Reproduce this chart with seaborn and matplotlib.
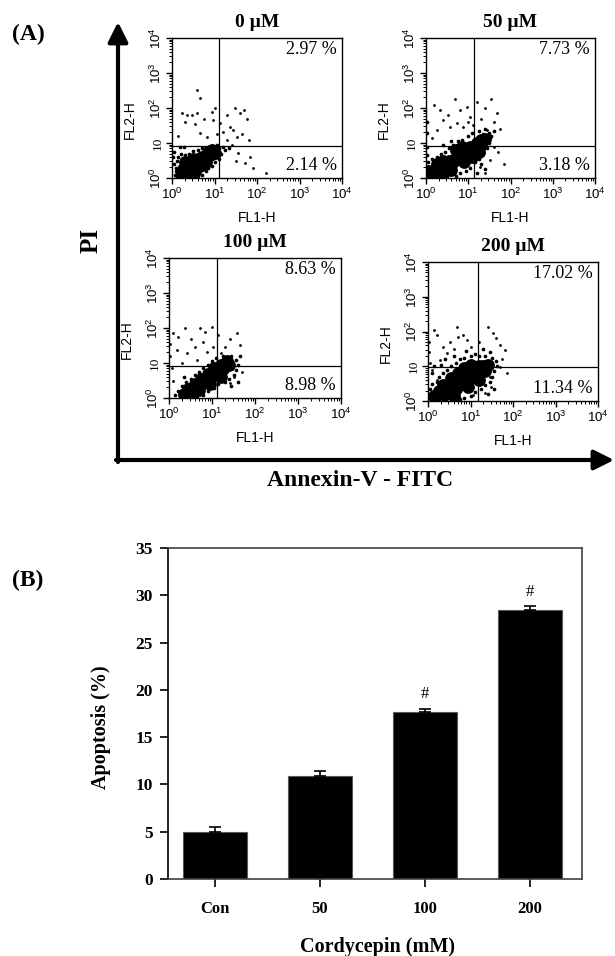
import numpy as np
import pandas as pd
import seaborn as sns
import matplotlib.pyplot as plt
from matplotlib.ticker import LogLocator, NullFormatter

# ---- panel A: flow cytometry dot plots (values in log10 units) ----
doses = ['0 µM', '50 µM', '100 µM', '200 µM']
upper_pct = ['2.97 %', '7.73 %', '8.63 %', '17.02 %']
lower_pct = ['2.14 %', '3.18 %', '8.98 %', '11.34 %']
gate_fl1 = [1.10, 1.13, 1.12, 1.18]
gate_fl2 = [0.91, 0.91, 0.91, 0.98]

core_0 = [(0.25, 0.15), (0.35, 0.15), (0.45, 0.18), (0.30, 0.28), (0.40, 0.30), (0.50, 0.30),
          (0.60, 0.32), (0.45, 0.42), (0.55, 0.45), (0.65, 0.45), (0.75, 0.50), (0.60, 0.55),
          (0.70, 0.60), (0.80, 0.62), (0.90, 0.65), (0.85, 0.75), (0.95, 0.80), (0.35, 0.40),
          (0.25, 0.25), (0.55, 0.20), (0.70, 0.38), (1.00, 0.72), (0.20, 0.10), (0.40, 0.10),
          (0.50, 0.55), (0.80, 0.45), (0.30, 0.45)]
halo_0 = [(0.08, 0.10), (0.10, 0.30), (0.12, 0.50), (0.15, 0.60), (0.20, 0.70), (0.05, 0.75),
          (0.30, 0.65), (0.40, 0.70), (0.50, 0.78), (0.60, 0.80), (0.70, 0.85), (0.85, 0.90),
          (1.05, 0.95), (1.10, 0.85), (1.15, 0.70), (1.10, 0.55), (1.00, 0.45), (0.95, 0.35),
          (0.85, 0.30), (0.80, 0.20), (0.70, 0.10), (0.60, 0.05), (0.15, 0.05), (0.05, 0.40),
          (1.20, 0.90), (1.25, 0.80), (1.35, 0.85), (0.45, 0.05), (0.18, 0.90), (0.28, 0.88),
          (0.10, 0.20), (0.20, 0.45), (0.02, 0.60), (1.05, 0.60), (0.95, 0.92)]
sparse_0 = [(0.58, 2.51), (0.66, 2.29), (0.23, 1.85), (0.35, 1.80), (0.46, 1.80), (0.58, 1.85),
            (0.93, 1.89), (0.97, 1.66), (1.29, 1.80), (1.48, 1.99), (1.60, 1.85), (1.76, 1.68),
            (1.44, 1.37), (1.36, 1.47), (1.52, 1.18), (1.80, 1.09), (1.56, 0.71), (1.72, 0.42),
            (1.84, 0.61), (0.66, 1.28), (0.82, 1.18), (1.13, 1.56), (1.21, 1.32), (0.30, 1.60),
            (0.55, 1.55), (1.05, 1.25), (1.30, 1.10), (1.65, 1.25), (1.40, 0.95), (0.75, 1.70),
            (1.90, 0.30), (2.20, 0.15), (1.50, 0.50), (0.15, 1.20), (1.00, 2.00), (1.70, 1.95)]

core_50 = [(0.10, 0.08), (0.20, 0.10), (0.15, 0.20), (0.30, 0.15), (0.30, 0.28), (0.40, 0.25),
           (0.45, 0.38), (0.55, 0.35), (0.55, 0.50), (0.65, 0.45), (0.70, 0.58), (0.80, 0.55),
           (0.80, 0.70), (0.90, 0.65), (0.95, 0.80), (1.05, 0.75), (1.05, 0.90), (1.15, 0.85),
           (1.20, 1.00), (1.30, 0.95), (1.30, 1.10), (0.05, 0.20), (0.25, 0.40), (0.40, 0.12),
           (0.60, 0.22), (1.40, 1.12), (0.90, 0.45), (0.70, 0.80), (0.05, 0.05), (1.10, 0.60),
           (0.40, 0.50), (0.85, 0.90), (1.25, 0.75)]
halo_50 = [(0.05, 0.45), (0.15, 0.55), (0.25, 0.60), (0.35, 0.70), (0.45, 0.75), (0.55, 0.85),
           (0.65, 0.95), (0.75, 1.05), (0.85, 1.10), (1.00, 1.20), (1.10, 1.30), (1.25, 1.35),
           (1.40, 1.40), (1.50, 1.30), (1.55, 1.20), (1.50, 1.00), (1.45, 0.85), (1.35, 0.70),
           (1.25, 0.55), (1.15, 0.45), (1.30, 0.40), (1.05, 0.30), (0.95, 0.20), (0.80, 0.15),
           (0.70, 0.05), (1.20, 0.15), (1.40, 0.25), (0.02, 0.65), (0.02, 0.90), (0.02, 1.30),
           (0.02, 1.60), (0.60, 1.05), (0.40, 0.95), (1.35, 1.25), (1.60, 1.35)]
sparse_50 = [(0.69, 2.25), (0.33, 1.94), (0.53, 1.80), (0.80, 1.94), (0.96, 2.04), (1.20, 2.18),
             (1.40, 1.99), (1.55, 2.25), (1.67, 1.85), (1.44, 1.37), (1.55, 1.18), (1.51, 0.51),
             (1.40, 0.13), (1.28, 0.32), (0.57, 1.47), (0.41, 1.66), (0.25, 1.37), (0.73, 1.56),
             (0.88, 1.47), (1.04, 1.75), (1.12, 1.51), (1.62, 1.60), (1.70, 0.75), (0.15, 1.15),
             (1.85, 0.40), (1.00, 1.60), (0.20, 2.10), (1.30, 1.70), (1.60, 0.90), (1.75, 1.40)]

core_100 = [(0.35, 0.12), (0.45, 0.15), (0.55, 0.18), (0.45, 0.25), (0.55, 0.30), (0.65, 0.30),
            (0.70, 0.42), (0.80, 0.42), (0.85, 0.55), (0.95, 0.55), (1.00, 0.68), (1.10, 0.68),
            (1.15, 0.80), (1.25, 0.82), (1.30, 0.95), (1.40, 0.95), (0.60, 0.40), (0.75, 0.55),
            (0.90, 0.70), (1.05, 0.85), (1.20, 0.95), (1.35, 1.05), (0.50, 0.08), (0.70, 0.22),
            (0.95, 0.40), (1.20, 0.60)]
halo_100 = [(0.25, 0.05), (0.20, 0.20), (0.30, 0.35), (0.40, 0.45), (0.50, 0.55), (0.60, 0.65),
            (0.70, 0.75), (0.80, 0.85), (0.90, 0.95), (1.00, 1.05), (1.10, 1.15), (1.25, 1.20),
            (1.45, 1.20), (1.55, 1.10), (1.60, 0.95), (1.55, 0.80), (1.50, 0.65), (1.40, 0.55),
            (1.30, 0.45), (1.15, 0.40), (1.05, 0.30), (0.90, 0.20), (0.80, 0.10), (0.65, 0.05),
            (1.60, 0.45), (1.45, 0.35), (0.15, 0.10), (0.35, 0.60), (1.65, 1.20)]
sparse_100 = [(0.37, 1.99), (0.10, 1.85), (0.22, 1.75), (0.72, 1.99), (0.84, 1.89), (0.99, 2.04),
              (0.60, 1.47), (0.41, 1.28), (0.64, 1.09), (0.88, 1.32), (1.03, 1.47), (1.15, 1.80),
              (1.42, 1.70), (1.57, 1.85), (1.65, 1.51), (0.18, 1.37), (0.30, 0.99), (0.06, 0.85),
              (1.50, 0.61), (1.42, 0.42), (0.02, 1.20), (0.02, 1.55), (1.30, 1.45), (0.50, 1.70),
              (1.70, 0.75), (0.10, 0.50), (1.20, 1.30), (0.80, 1.60)]

core_200 = [(0.15, 0.15), (0.25, 0.12), (0.35, 0.15), (0.25, 0.28), (0.40, 0.28), (0.50, 0.25),
            (0.45, 0.40), (0.55, 0.38), (0.65, 0.35), (0.60, 0.52), (0.70, 0.50), (0.80, 0.48),
            (0.75, 0.65), (0.85, 0.62), (0.95, 0.60), (0.90, 0.78), (1.00, 0.75), (1.10, 0.72),
            (1.05, 0.90), (1.15, 0.88), (1.25, 0.85), (1.20, 1.00), (1.30, 1.00), (1.40, 1.05),
            (0.35, 0.45), (0.55, 0.65), (0.70, 0.80), (0.85, 0.95), (1.00, 1.05), (1.35, 0.85),
            (0.20, 0.05), (1.20, 0.60), (0.60, 0.15), (0.95, 0.40)]
halo_200 = [(0.05, 0.10), (0.05, 0.35), (0.10, 0.50), (0.20, 0.55), (0.25, 0.70), (0.35, 0.80),
            (0.45, 0.90), (0.55, 1.00), (0.65, 1.10), (0.75, 1.20), (0.85, 1.25), (1.00, 1.30),
            (1.10, 1.35), (1.20, 1.30), (1.35, 1.30), (1.50, 1.25), (1.60, 1.15), (1.62, 1.00),
            (1.55, 0.85), (1.50, 0.70), (1.45, 0.55), (1.35, 0.45), (1.25, 0.35), (1.10, 0.25),
            (1.00, 0.15), (0.85, 0.10), (0.75, 0.05), (1.40, 0.20), (1.55, 0.35), (0.10, 0.80),
            (0.15, 1.00), (0.30, 1.05), (0.40, 1.20), (0.60, 1.30), (0.90, 1.45), (1.30, 1.50),
            (1.45, 1.40)]
sparse_200 = [(0.13, 2.04), (0.21, 1.90), (0.68, 2.14), (0.83, 1.90), (0.52, 1.71), (0.36, 1.56),
              (1.41, 2.14), (1.53, 1.95), (1.69, 1.61), (1.81, 1.47), (0.28, 1.18), (0.09, 0.89),
              (0.21, 0.60), (1.46, 0.70), (1.49, 0.41), (1.69, 0.99), (1.34, 0.22), (1.07, 0.17),
              (0.91, 1.76), (0.44, 1.37), (0.02, 1.70), (0.02, 1.40), (1.20, 1.70), (1.00, 1.55),
              (0.60, 1.50), (1.75, 1.20), (1.85, 0.80), (0.70, 1.85), (1.60, 1.80), (0.05, 1.10)]

cores = [core_0, core_50, core_100, core_200]
halos = [halo_0, halo_50, halo_100, halo_200]
sparses = [sparse_0, sparse_50, sparse_100, sparse_200]

# ---- panel B: apoptosis bar chart ----
groups = ['Con', '50', '100', '200']
apoptosis = [5.0, 10.85, 17.65, 28.4]
apoptosis_err = [0.45, 0.6, 0.35, 0.45]
significant = [False, False, True, True]

sns.set_theme(style='ticks')
plt.rcParams['font.family'] = ['Liberation Serif', 'DejaVu Serif']
plt.rcParams['mathtext.fontset'] = 'custom'
plt.rcParams['mathtext.rm'] = 'Liberation Sans'
plt.rcParams['mathtext.it'] = 'Liberation Sans'
for key in ('text.color', 'axes.labelcolor', 'xtick.color', 'ytick.color', 'axes.edgecolor'):
    plt.rcParams[key] = 'black'

W, H = 615, 956
fig = plt.figure(figsize=(W / 100, H / 100), dpi=100)


def px_axes(x0, y0, x1, y1):
    return fig.add_axes([x0 / W, 1 - y1 / H, (x1 - x0) / W, (y1 - y0) / H])


# big PI / Annexin arrows
over = fig.add_axes([0, 0, 1, 1], zorder=-1)
over.set_xlim(0, W)
over.set_ylim(H, 0)
over.axis('off')
arrow = dict(arrowstyle='-|>', lw=3, color='black', mutation_scale=30, shrinkA=0, shrinkB=0)
over.annotate('', xy=(118, 22), xytext=(118, 462), arrowprops=arrow)
over.annotate('', xy=(614, 460), xytext=(116, 460), arrowprops=arrow)

boxes = [(172, 38, 342, 178), (426, 38, 595, 178), (169, 258, 341, 398), (428, 262, 598, 401)]
sans = 'Liberation Sans'
for i, box in enumerate(boxes):
    ax = px_axes(*box)
    for pts, s in ((sparses[i], 4), (halos[i], 7), (cores[i], 85)):
        df = pd.DataFrame(pts, columns=['fl1', 'fl2'])
        sns.scatterplot(x=10 ** df['fl1'], y=10 ** df['fl2'], s=s, color='black',
                        linewidth=0, ax=ax, legend=False)
    ax.set_xscale('log')
    ax.set_yscale('log')
    ax.set_xlim(1, 1e4)
    ax.set_ylim(1, 1e4)
    ax.axvline(10 ** gate_fl1[i], color='black', lw=0.9)
    ax.axhline(10 ** gate_fl2[i], color='black', lw=0.9)
    dec = [1, 10, 100, 1000, 10000]
    ax.set_xticks(dec)
    ax.set_xticklabels(['$10^0$', '$10^1$', '$10^2$', '$10^3$', '$10^4$'], fontsize=9.5)
    ax.set_yticks(dec)
    ax.set_yticklabels(['$10^0$', '10', '$10^2$', '$10^3$', '$10^4$'], fontsize=9.5,
                       rotation=90, va='center')
    for axis in (ax.xaxis, ax.yaxis):
        axis.set_minor_locator(LogLocator(base=10, subs=np.arange(2, 10), numticks=100))
        axis.set_minor_formatter(NullFormatter())
    ax.tick_params(which='major', length=4, width=1, pad=2)
    ax.tick_params(which='minor', length=2.5, width=0.7)
    for sp in ax.spines.values():
        sp.set_linewidth(1)
    ax.set_xlabel('FL1-H', family=sans, fontsize=10)
    ax.set_ylabel('FL2-H', family=sans, fontsize=10)
    ax.xaxis.set_label_coords(0.5, -0.236)
    ax.yaxis.set_label_coords(-0.206, 0.415)
    ax.set_title(doses[i], fontweight='bold', fontsize=14, pad=8)
    ax.text(0.97, 0.915, upper_pct[i], transform=ax.transAxes, ha='right', va='center',
            fontsize=13)
    ax.text(0.97, 0.09, lower_pct[i], transform=ax.transAxes, ha='right', va='center',
            fontsize=13)

fig.text(12 / W, 1 - 34 / H, '(A)', fontsize=17, fontweight='bold', va='center')
fig.text(91 / W, 1 - 240 / H, 'PI', fontsize=18, fontweight='bold', rotation=90,
         ha='center', va='center')
fig.text(360 / W, 1 - 481 / H, 'Annexin-V - FITC', fontsize=17, fontweight='bold',
         ha='center', va='center')

# bar chart
axb = px_axes(168, 548, 582, 879)
bars = pd.DataFrame({'group': groups, 'apoptosis': apoptosis})
sns.barplot(data=bars, x='group', y='apoptosis', color='black', saturation=1, width=0.61,
            errorbar=None, edgecolor='0.35', linewidth=0.8, ax=axb)
axb.errorbar(np.arange(len(groups)), apoptosis, yerr=[np.zeros(len(groups)), apoptosis_err],
             fmt='none', ecolor='black', elinewidth=1.2, capsize=4, capthick=1.2)
for i, flag in enumerate(significant):
    if flag:
        axb.text(i, apoptosis[i] + apoptosis_err[i] + 0.7, '#', ha='center', va='bottom',
                 fontsize=12)
axb.set_xlim(-0.45, 3.5)
axb.set_ylim(0, 35)
axb.set_yticks(range(0, 36, 5))
for sp in axb.spines.values():
    sp.set_linewidth(1.2)
    sp.set_color('0.25')
axb.spines['left'].set_color('black')
axb.tick_params(axis='y', length=6, width=1.2, pad=5, labelsize=12.5)
axb.tick_params(axis='x', length=6, width=1.2, pad=10, labelsize=12)
for lab in axb.get_xticklabels() + axb.get_yticklabels():
    lab.set_fontweight('bold')
axb.set_xlabel('Cordycepin (mM)', fontsize=14.5, fontweight='bold')
axb.set_ylabel('Apoptosis (%)', fontsize=14.5, fontweight='bold')
axb.xaxis.set_label_coords(0.507, -0.176)
axb.yaxis.set_label_coords(-0.137, 0.459)
fig.text(12 / W, 1 - 580 / H, '(B)', fontsize=17, fontweight='bold', va='center')

fig.savefig('out.png', dpi=100)
